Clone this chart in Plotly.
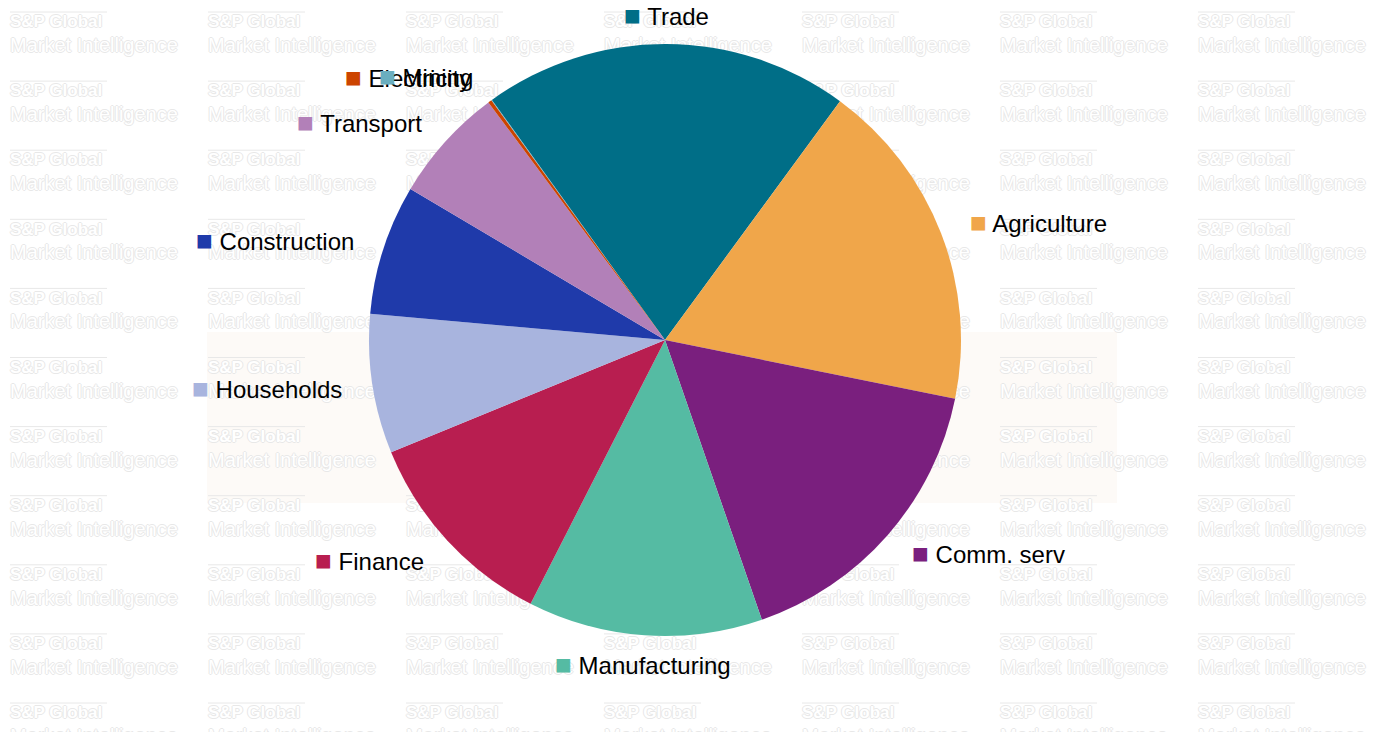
import math

import plotly.graph_objects as go

# sector shares (%)
sectors = ["Trade", "Agriculture", "Comm. serv", "Manufacturing", "Finance",
           "Households", "Construction", "Transport", "Electricity", "Mining"]
shares = [20.0, 18.1, 16.5, 12.8, 11.3, 7.6, 7.1, 6.3, 0.2, 0.03]
colors = ["#006e87", "#f0a64a", "#7a1f7e", "#55bba3", "#b81e50",
          "#a8b4de", "#1f3aaa", "#b280b8", "#cc4400", "#6aaebf"]

W, H = 1383, 732
OFF = 8                        # page body margin, the figure is drawn this far in
CX, CY, R = 665, 340, 296      # pie centre / radius in page px
LABEL_R = 325                  # distance of the data labels from the centre
START = -35.8                  # angle where the first slice starts (deg, clockwise)
FONT = "Liberation Sans, Arial, sans-serif"
WM_EDGE = "#e8e8e8"

fig = go.Figure()

# tiled watermark, drawn on a pixel-sized cartesian layer under the pie
wm_x, wm_y1, wm_y2 = [], [], []
shapes = [dict(type="rect", xref="x", yref="y", x0=207, x1=1117, y0=332, y1=503,
               fillcolor="#fdfaf7", line=dict(width=0), layer="below")]
for col in range(7):
    for row in range(11):
        x0 = 10 + col * 198
        y0 = 12 + row * 69.1
        wm_x.append(x0)
        wm_y1.append(y0 + 11)
        wm_y2.append(y0 + 35)
        shapes.append(dict(type="line", xref="x", yref="y", x0=x0, x1=x0 + 97,
                           y0=y0, y1=y0, line=dict(color=WM_EDGE, width=1),
                           layer="below"))

outline = ", ".join(f"{a}px {b}px 0 {WM_EDGE}" for a, b in
                    [(1, 0), (-1, 0), (0, 1), (0, -1)])
fig.add_trace(go.Scatter(
    x=wm_x, y=wm_y1, mode="text", text=["S&amp;P Global"] * len(wm_x),
    textposition="middle right", hoverinfo="skip", showlegend=False,
    textfont=dict(family=FONT, size=17, color="white", weight="bold",
                  shadow=outline),
))
fig.add_trace(go.Scatter(
    x=wm_x, y=wm_y2, mode="text", text=["Market Intelligence"] * len(wm_x),
    textposition="middle right", hoverinfo="skip", showlegend=False,
    textfont=dict(family=FONT, size=20, color="white", shadow=outline),
))

fig.add_trace(go.Pie(
    labels=sectors, values=shares, sort=True, direction="clockwise",
    rotation=START, marker=dict(colors=colors, line=dict(width=0)),
    textinfo="none", hoverinfo="label+percent", showlegend=False,
    domain=dict(x=[(CX - R - OFF) / W, (CX + R - OFF) / W],
                y=[1 - (CY + R - OFF) / H, 1 - (CY - R - OFF) / H]),
))

# data labels with a coloured square, placed round the pie
annotations = []
total = sum(shares)
order = sorted(range(len(shares)), key=lambda i: -shares[i])
angle = START
for i in order:
    span = shares[i] / total * 360
    mid = math.radians(angle + span / 2)
    angle += span
    s = math.sin(mid)
    lx = CX + LABEL_R * s
    ly = CY - LABEL_R * math.cos(mid)
    anchor = "center" if abs(s) < 0.15 else ("left" if s > 0 else "right")
    annotations.append(dict(
        x=lx, y=ly, xref="x", yref="y", xanchor=anchor, yanchor="middle",
        showarrow=False,
        text=(f"<span style='color:{colors[i]};font-size:28px'>■</span>"
              f" {sectors[i]}"),
        font=dict(family=FONT, size=24, color="#000000"),
    ))

fig.update_layout(
    width=W, height=H,
    margin=dict(l=0, r=0, t=0, b=0),
    paper_bgcolor="white", plot_bgcolor="rgba(0,0,0,0)",
    xaxis=dict(range=[OFF, W + OFF], visible=False, fixedrange=True),
    yaxis=dict(range=[H + OFF, OFF], visible=False, fixedrange=True),
    shapes=shapes,
    annotations=annotations,
)

fig.write_html("out.html")
